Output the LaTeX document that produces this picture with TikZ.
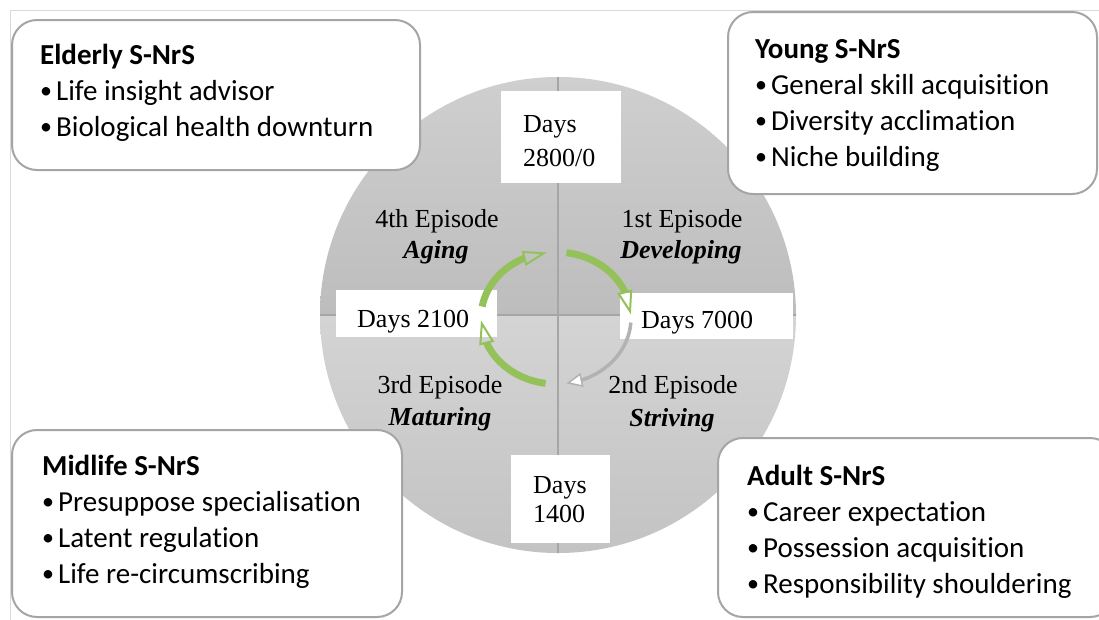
\documentclass[tikz,border=0pt]{standalone}
\usepackage{fontspec}
\setmainfont{Liberation Serif}
\newfontfamily\boxfont[Ligatures=NoCommon]{Carlito}
\usetikzlibrary{arrows.meta,bending}
\definecolor{arrowgreen}{HTML}{94C15A}
\definecolor{axisgray}{HTML}{A6A6A6}
\definecolor{boxborder}{HTML}{A5A5A5}
\definecolor{framegray}{HTML}{D9D9D9}
\definecolor{topA}{HTML}{CFCFCF}
\definecolor{topB}{HTML}{BDBDBD}
\definecolor{botA}{HTML}{D4D4D4}
\definecolor{botB}{HTML}{C3C3C3}
\newcommand{\bul}{\raisebox{1.5pt}{\fontsize{24}{24}\selectfont\textbullet}\kern4pt}
\begin{document}
\begin{tikzpicture}[x=1pt,y=-1pt,
  serif/.style={font=\fontsize{26}{30}\selectfont, inner sep=0pt, anchor=base},
  serifl/.style={font=\fontsize{26}{30}\selectfont, inner sep=0pt, anchor=base west},
  sanst/.style={font=\boxfont\bfseries\fontsize{29}{36}\selectfont, inner sep=0pt, anchor=base west},
  sansl/.style={font=\boxfont\fontsize{29}{36}\selectfont, inner sep=0pt, anchor=base west},
  infobox/.style={draw=boxborder, line width=2pt, fill=white, rounded corners=25pt},
  daybox/.style={fill=white, draw=none},
  axis/.style={draw=axisgray, line width=1.5pt},
  garrow/.style={draw=arrowgreen, line width=7pt,
    -{Triangle[open, length=24pt, width=15pt, line width=2pt]}},
  grayarrow/.style={draw=gray!60, line width=3.5pt,
    -{Triangle[length=16pt, width=14pt, fill=white, line width=1.5pt]}}
]
\useasboundingbox (0,0) rectangle (1099,619);
\fill[white] (0,0) rectangle (1099,619);
\draw[framegray, line width=1pt] (10,10) rectangle (1130,640);

% circle halves
\shade[top color=topA, bottom color=topB] (320,315) arc[start angle=180, end angle=360, radius=238] -- cycle;
\shade[top color=botA, bottom color=botB] (796,315) arc[start angle=0, end angle=180, radius=238] -- cycle;
\draw[axis] (558,77) -- (558,553);
\draw[axis] (320,315) -- (796,315);

% day label boxes
\fill[daybox] (501,91) rectangle (621,183);
\fill[daybox] (336,290) rectangle (497,337);
\fill[daybox] (620,293) rectangle (793,339);
\fill[daybox] (511,455) rectangle (610,543);

\node[serifl] (d0a) at (523,132) {Days};
\node[serifl] (d0b) at (523,166) {2800/0};
\node[serifl] (d1) at (357,327) {Days 2100};
\node[serifl] (d2) at (641,328) {Days 7000};
\node[serifl] (d3a) at (533,493) {Days};
\node[serifl] (d3b) at (533,522) {1400};

% episode labels
\node[serif] (e4) at (437,227) {4th Episode};
\node[serif] (e4b) at (436,258) {\textbf{\textit{Aging}}};
\node[serif] (e1) at (682,227) {1st Episode};
\node[serif] (e1b) at (681,258) {\textbf{\textit{Developing}}};
\node[serif] (e3) at (440,393) {3rd Episode};
\node[serif] (e3b) at (440,425) {\textbf{\textit{Maturing}}};
\node[serif] (e2) at (673,393) {2nd Episode};
\node[serif] (e2b) at (672,426) {\textbf{\textit{Striving}}};

% cycle arrows
\coordinate (cyc) at (556,318);
\draw[garrow] ([shift={(-82:75 and 66)}]cyc) arc[start angle=-82, end angle=-3, x radius=75, y radius=66];
\draw[grayarrow] ([shift={(4:75 and 66)}]cyc) arc[start angle=4, end angle=82, x radius=75, y radius=66];
\draw[garrow] ([shift={(98:75 and 66)}]cyc) arc[start angle=98, end angle=178, x radius=75, y radius=66];
\draw[garrow] ([shift={(190:75 and 66)}]cyc) arc[start angle=190, end angle=263, x radius=75, y radius=66];

% info boxes
\draw[infobox] (12,20) rectangle (420,170);
\node[sanst] (el0) at (40,64) {Elderly S-NrS};
\node[sansl] (el1) at (40,100) {\bul Life insight advisor};
\node[sansl] (el2) at (40,136) {\bul Biological health downturn};

\draw[infobox] (728,12) rectangle (1097,194);
\node[sanst] (yo0) at (755,58) {Young S-NrS};
\node[sansl] (yo1) at (755,94) {\bul General skill acquisition};
\node[sansl] (yo2) at (755,130) {\bul Diversity acclimation};
\node[sansl] (yo3) at (755,166) {\bul Niche building};

\draw[infobox] (12,430) rectangle (402,617);
\node[sanst] (mi0) at (42,475) {Midlife S-NrS};
\node[sansl] (mi1) at (42,511) {\bul Presuppose specialisation};
\node[sansl] (mi2) at (42,547) {\bul Latent regulation};
\node[sansl] (mi3) at (42,583) {\bul Life re-circumscribing};

\draw[infobox] (718,438) rectangle (1115,617);
\node[sanst] (ad0) at (747,485) {Adult S-NrS};
\node[sansl] (ad1) at (747,521) {\bul Career expectation};
\node[sansl] (ad2) at (747,557) {\bul Possession acquisition};
\node[sansl] (ad3) at (747,593) {\bul Responsibility shouldering};
\end{tikzpicture}
\end{document}
